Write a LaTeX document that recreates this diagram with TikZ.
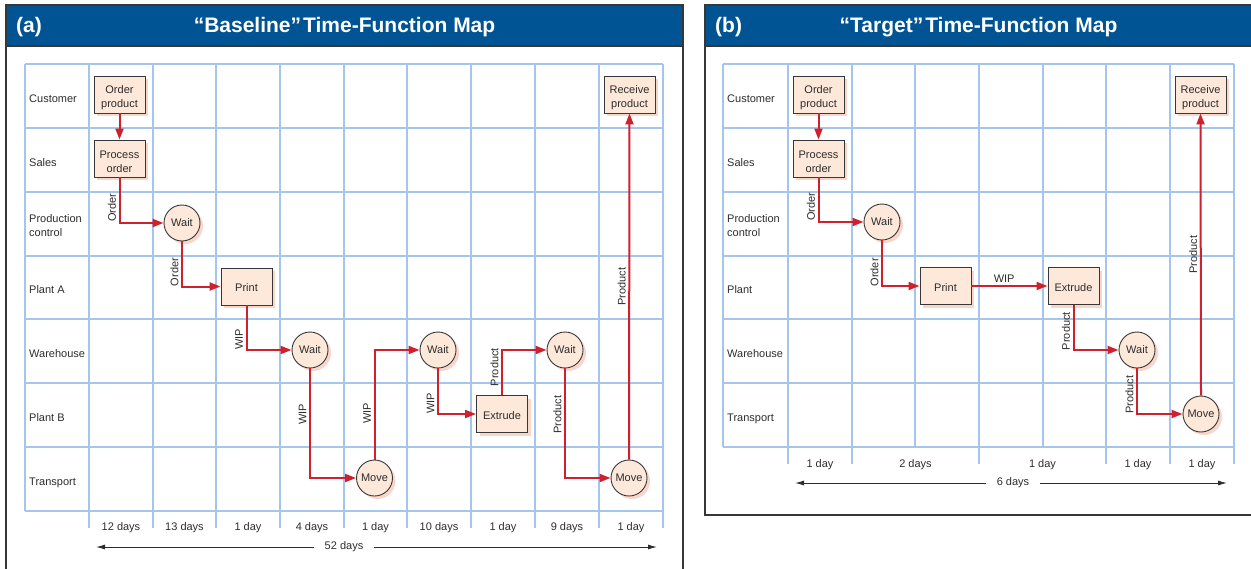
\documentclass[tikz,border=0pt]{standalone}
\usepackage{fontspec}
\setmainfont{Liberation Sans}
\usetikzlibrary{arrows.meta,shadows}
\definecolor{hdrblue}{RGB}{0,84,147}
\definecolor{gridblue}{RGB}{166,197,235}
\definecolor{boxfill}{RGB}{253,232,218}
\definecolor{shadowpink}{RGB}{249,214,202}
\definecolor{flowred}{RGB}{206,32,45}
\definecolor{ink}{RGB}{45,45,45}
\definecolor{framegray}{RGB}{55,55,55}
\newcommand{\upstrut}[1]{\rule{0pt}{#1}}
\begin{document}
\begin{tikzpicture}[x=1pt,y=-1pt,
  every node/.style={font=\fontsize{11}{14}\selectfont, text=ink},
  gridline/.style={draw=gridblue, line width=1.1pt},
  framestyle/.style={draw=framegray, line width=1.5pt},
  procbox/.style={draw=framegray, line width=0.9pt, fill=boxfill,
    minimum width=51pt, minimum height=37pt, inner sep=0pt, align=center,
    drop shadow={shadow xshift=3pt, shadow yshift=-3pt, fill=shadowpink, opacity=1}},
  proccirc/.style={circle, draw=framegray, line width=0.9pt, fill=boxfill,
    minimum size=36pt, inner sep=0pt,
    drop shadow={shadow xshift=3pt, shadow yshift=-3pt, fill=shadowpink, opacity=1}},
  flow/.style={draw=flowred, line width=2pt, -{Triangle[length=11pt,width=8pt]}},
  vlab/.style={rotate=90, anchor=south, inner sep=2.6pt},
  rowlab/.style={anchor=west, align=left, inner sep=0pt, text height=8pt, text depth=2pt},
  daylab/.style={anchor=base, inner sep=0pt},
  dimarrow/.style={draw=ink, line width=1pt, -{Latex[length=9pt,width=5pt]}},
  titletext/.style={font=\fontsize{21}{25}\selectfont\bfseries, text=white, inner sep=0pt}
]
\useasboundingbox (0,0) rectangle (1251,568);

% ---------------- panel (a) frame ----------------
\fill[hdrblue] (6,5) rectangle (683,46);
\draw[framestyle] (6,5) rectangle (683,590);
\draw[framestyle] (6,46) -- (683,46);
\node[titletext, anchor=base west] (labA) at (16,32) {(a)};
\node[titletext, anchor=base] (ttlA) at (344.5,32) {“Baseline”\hspace{2pt}Time-Function Map};

% grid (a)
\foreach \yy in {64,128,192,256,319,383,447,511}
  \draw[gridline] (25,\yy) -- (663,\yy);
\draw[gridline] (25,64) -- (25,511);
\foreach \xx in {89,153,216,280,344,407,471,535,599,663}
  \draw[gridline] (\xx,64) -- (\xx,528);

% row labels (a)
\node[rowlab] (rA1) at (29,99) {Customer};
\node[rowlab] (rA2) at (29,163) {Sales};
\node[anchor=west, align=left, inner sep=0pt] (rA3) at (29,226) {Production\\control};
\node[rowlab] (rA4) at (29,290) {Plant A};
\node[rowlab] (rA5) at (29,354) {Warehouse};
\node[rowlab] (rA6) at (29,418) {Plant B};
\node[rowlab] (rA7) at (29,482) {Transport};

% day labels (a)
\node[daylab] (dA1) at (121,530) {12 days};
\node[daylab] (dA2) at (184.5,530) {13 days};
\node[daylab] (dA3) at (248,530) {1 day};
\node[daylab] (dA4) at (312,530) {4 days};
\node[daylab] (dA5) at (375.5,530) {1 day};
\node[daylab] (dA6) at (439,530) {10 days};
\node[daylab] (dA7) at (503,530) {1 day};
\node[daylab] (dA8) at (567,530) {9 days};
\node[daylab] (dA9) at (631,530) {1 day};

\coordinate (endAL) at (96,547);
\coordinate (endAR) at (657,547);
\node[inner ysep=0pt, inner xsep=11pt] (totA) at (344,547) {52 days};
\draw[dimarrow] (totA) -- (endAL);
\draw[dimarrow] (totA) -- (endAR);

% nodes (a)
\node[procbox] (opA) at (119.5,94.5) {\upstrut{14pt}Order\\product};
\node[procbox] (poA) at (119.5,158.5) {\upstrut{14pt}Process\\order};
\node[proccirc] (w1A) at (182,223) {Wait};
\node[procbox] (prA) at (246.5,286.5) {\upstrut{11pt}Print};
\node[proccirc] (w2A) at (310,350) {Wait};
\node[proccirc] (m1A) at (374.5,478) {Move};
\node[proccirc] (w3A) at (438,350) {Wait};
\node[procbox] (exA) at (502,414) {\upstrut{11pt}Extrude};
\node[proccirc] (w4A) at (565,350) {Wait};
\node[proccirc] (m2A) at (629,478) {Move};
\node[procbox] (rpA) at (629.5,94.5) {\upstrut{14pt}Receive\\product};

% connectors (a)
\draw[flow] (opA.south) -- (poA.north);
\draw[flow] (poA.south) |- node[vlab,pos=0.33] {Order} (w1A.west);
\draw[flow] (w1A.south) |- node[vlab,pos=0.34] {Order} (prA.west);
\draw[flow] (prA.south) |- node[vlab,pos=0.38] {WIP} (w2A.west);
\draw[flow] (w2A.south) |- node[vlab,pos=0.21] {WIP} (m1A.west);
\draw[flow] (m1A.north) |- node[vlab,pos=0.21] {WIP} (w3A.west);
\draw[flow] (w3A.south) |- node[vlab,pos=0.38] {WIP} (exA.west);
\draw[flow] (exA.north) |- node[vlab,pos=0.31] {Product} (w4A.west);
\draw[flow] (w4A.south) |- node[vlab,pos=0.21] {Product} (m2A.west);
\draw[flow] (m2A.north) -- node[vlab,pos=0.5] {Product} (rpA.south);

% ---------------- panel (b) frame ----------------
\fill[hdrblue] (705,5) rectangle (1258,46);
\draw[framestyle] (705,5) rectangle (1258,515);
\draw[framestyle] (705,46) -- (1258,46);
\node[titletext, anchor=base west] (labB) at (715,32) {(b)};
\node[titletext, anchor=base] (ttlB) at (978.5,32) {“Target”\hspace{2pt}Time-Function Map};

% grid (b)
\foreach \yy in {64,128,192,256,319,383,447}
  \draw[gridline] (723,\yy) -- (1234,\yy);
\foreach \xx in {723,915,1043}
  \draw[gridline] (\xx,64) -- (\xx,447);
\foreach \xx in {788,852,979,1106,1170,1234}
  \draw[gridline] (\xx,64) -- (\xx,464);

% row labels (b)
\node[rowlab] (rB1) at (727,99) {Customer};
\node[rowlab] (rB2) at (727,163) {Sales};
\node[anchor=west, align=left, inner sep=0pt] (rB3) at (727,226) {Production\\control};
\node[rowlab] (rB4) at (727,290) {Plant};
\node[rowlab] (rB5) at (727,354) {Warehouse};
\node[rowlab] (rB6) at (727,418) {Transport};

% day labels (b)
\node[daylab] (dB1) at (820,467) {1 day};
\node[daylab] (dB2) at (915.5,467) {2 days};
\node[daylab] (dB3) at (1042.5,467) {1 day};
\node[daylab] (dB4) at (1138,467) {1 day};
\node[daylab] (dB5) at (1202,467) {1 day};

\coordinate (endBL) at (795,483);
\coordinate (endBR) at (1227,483);
\node[inner ysep=0pt, inner xsep=11pt] (totB) at (1013,483) {6 days};
\draw[dimarrow] (totB) -- (endBL);
\draw[dimarrow] (totB) -- (endBR);

% nodes (b)
\node[procbox] (opB) at (818.5,94.5) {\upstrut{14pt}Order\\product};
\node[procbox] (poB) at (818.5,158.5) {\upstrut{14pt}Process\\order};
\node[proccirc] (w1B) at (882,222) {Wait};
\node[procbox] (prB) at (945.5,286) {\upstrut{11pt}Print};
\node[procbox] (exB) at (1073.5,286) {\upstrut{11pt}Extrude};
\node[proccirc] (w2B) at (1137,350) {Wait};
\node[proccirc] (m1B) at (1201,414) {Move};
\node[procbox] (rpB) at (1200.5,94.5) {\upstrut{14pt}Receive\\product};

% connectors (b)
\draw[flow] (opB.south) -- (poB.north);
\draw[flow] (poB.south) |- node[vlab,pos=0.33] {Order} (w1B.west);
\draw[flow] (w1B.south) |- node[vlab,pos=0.35] {Order} (prB.west);
\draw[flow] (prB.east) -- node[above, pos=0.43, inner sep=3pt] {WIP} (exB.west);
\draw[flow] (exB.south) |- node[vlab,pos=0.29] {Product} (w2B.west);
\draw[flow] (w2B.south) |- node[vlab,pos=0.29] {Product} (m1B.west);
\draw[flow] (m1B.north) -- node[vlab,pos=0.5] {Product} (rpB.south);
\end{tikzpicture}
\end{document}
